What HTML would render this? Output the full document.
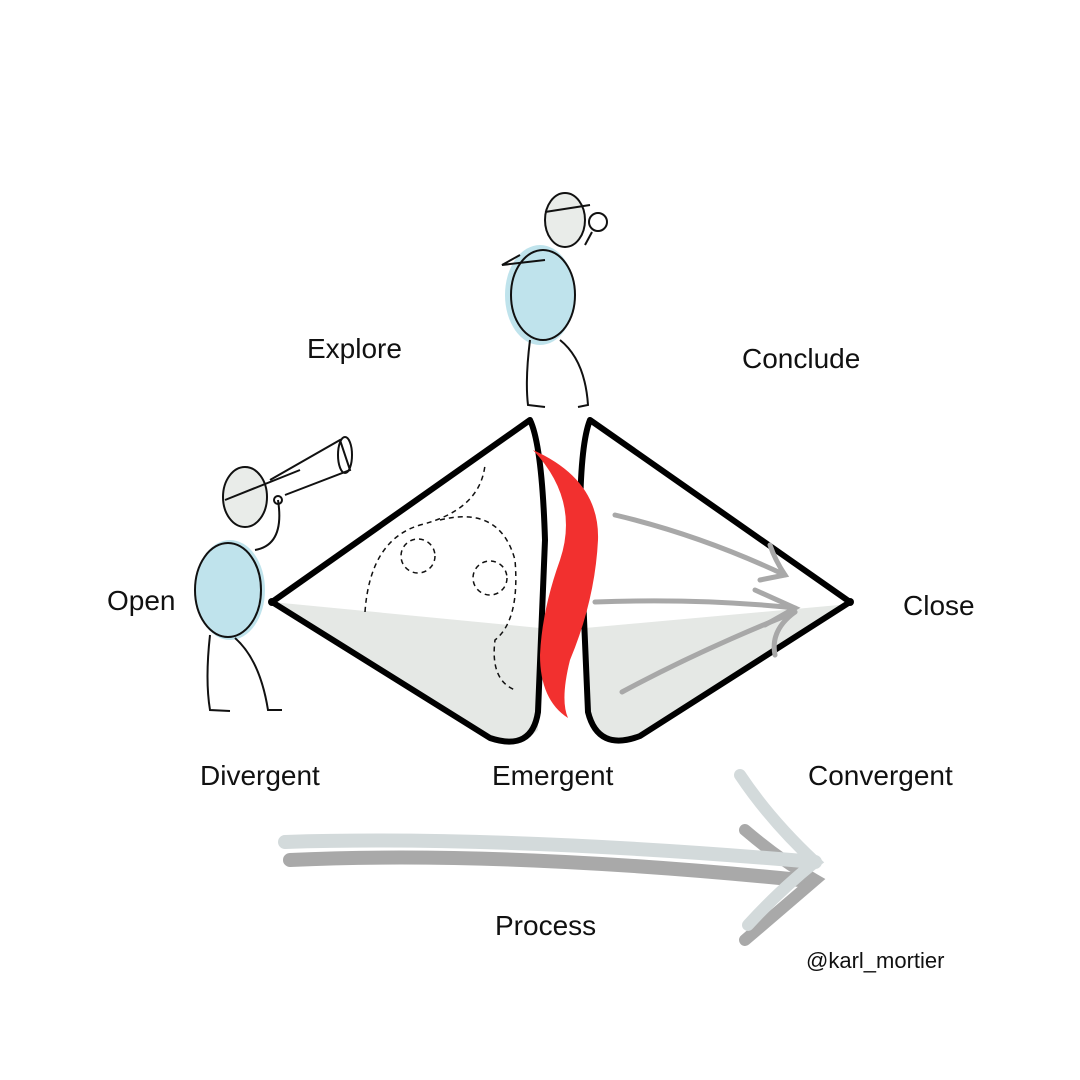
<!DOCTYPE html>
<html><head><meta charset="utf-8"><style>
html,body{margin:0;padding:0;background:#fff}
svg{display:block}
text{font-family:"Liberation Sans",sans-serif;font-size:28px;fill:#111}
</style></head><body>
<svg width="1080" height="1080" viewBox="0 0 1080 1080" xmlns="http://www.w3.org/2000/svg">
<rect width="1080" height="1080" fill="#fff"/>
<path d="M272,602 L540,628 L538,730 Q520,748 490,738 Z" fill="#e5e8e5"/>
<path d="M585,628 L850,604 L640,735 Q600,752 588,712 Z" fill="#e5e8e5"/>
<g fill="none" stroke="#111" stroke-width="1.5" stroke-dasharray="5,4">
<path d="M365,612 Q370,540 420,525 Q480,510 485,465"/>
<circle cx="418" cy="556" r="17"/>
<circle cx="490" cy="578" r="17"/>
<path d="M440,520 Q500,505 515,560 Q520,620 495,640 Q490,680 515,690"/>
</g>
<g fill="none" stroke="#000" stroke-width="6" stroke-linejoin="round" stroke-linecap="round">
<path d="M530,420 L272,602 L490,738 Q532,752 538,712 L545,540 Q542,445 530,420"/>
<path d="M590,420 L850,602 L640,736 Q598,752 588,712 L580,525 Q580,445 590,420"/>
</g>
<circle cx="272" cy="602" r="4" fill="#000"/><circle cx="850" cy="602" r="4" fill="#000"/>
<path d="M533,450 Q600,480 598,540 Q595,600 570,660 Q560,700 568,718 Q540,700 540,655 Q542,610 560,560 Q580,500 533,450 Z" fill="#f2302f"/>
<g fill="none" stroke="#a8a8a8" stroke-width="5" stroke-linecap="round">
<path d="M615,515 Q700,535 785,575"/>
<path d="M595,602 Q700,598 795,608"/>
<path d="M622,692 Q700,650 795,612"/>
<path d="M770,545 Q775,560 785,575 L760,580"/>
<path d="M755,590 L795,608 L765,625"/>
<path d="M775,655 Q770,630 795,612"/>
</g>
<g fill="none" stroke-linecap="round">
<path d="M290,860 Q500,850 800,880" stroke="#a9a9a9" stroke-width="14"/>
<path d="M745,830 Q780,860 815,880 Q780,910 745,940" stroke="#a9a9a9" stroke-width="12"/>
<path d="M285,842 Q500,835 815,862" stroke="#d3dadb" stroke-width="14"/>
<path d="M740,775 Q770,820 815,862 Q780,890 748,925" stroke="#d3dadb" stroke-width="12"/>
</g>
<ellipse cx="540" cy="295" rx="35" ry="50" fill="#b8e0ea" opacity="0.9"/>
<g fill="none" stroke="#111" stroke-width="2">
<ellipse cx="565" cy="220" rx="20" ry="27" fill="#e9ece9"/>
<path d="M545,212 L590,205"/>
<ellipse cx="543" cy="295" rx="32" ry="45"/>
<path d="M530,340 Q525,380 528,405 L545,407"/>
<path d="M560,340 Q585,360 588,405 L578,407"/>
<path d="M520,255 L502,265 L545,260"/>
<path d="M585,245 L592,232"/><circle cx="598" cy="222" r="9"/>
</g>
<ellipse cx="230" cy="590" rx="35" ry="50" fill="#b8e0ea" opacity="0.9"/>
<g fill="none" stroke="#111" stroke-width="2">
<ellipse cx="245" cy="497" rx="22" ry="30" fill="#e9ece9"/>
<path d="M225,500 L300,470"/>
<path d="M270,480 L340,440 L350,470 L285,495"/>
<ellipse cx="345" cy="455" rx="7" ry="18"/>
<ellipse cx="228" cy="590" rx="33" ry="47"/>
<path d="M255,550 Q285,545 278,500"/><circle cx="278" cy="500" r="4"/>
<path d="M210,635 Q205,680 210,710 L230,711"/>
<path d="M235,638 Q260,660 268,710 L282,710"/>
</g>
<text x="307" y="358">Explore</text>
<text x="742" y="368">Conclude</text>
<text x="107" y="610">Open</text>
<text x="903" y="615">Close</text>
<text x="200" y="785">Divergent</text>
<text x="492" y="785">Emergent</text>
<text x="808" y="785">Convergent</text>
<text x="495" y="935">Process</text>
<text x="806" y="968" style="font-size:22px">@karl_mortier</text>
</svg>
</body></html>
